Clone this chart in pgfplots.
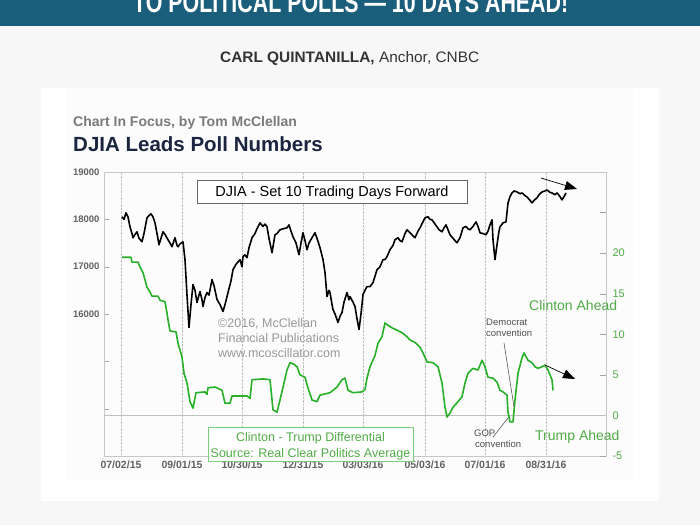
\documentclass[border=0pt]{standalone}
\usepackage{pgfplots}
\pgfplotsset{compat=1.18}
\usepackage{fontspec}
\setmainfont{Liberation Sans}
\usetikzlibrary{arrows.meta}
\definecolor{banner}{RGB}{27,94,124}
\definecolor{pagebg}{RGB}{247,247,247}
\definecolor{pollgreen}{RGB}{40,175,40}
\definecolor{txtgreen}{RGB}{80,170,70}
\definecolor{boxgreen}{RGB}{120,205,120}
\definecolor{navy}{RGB}{28,37,64}
\newcommand\fs[1]{\fontsize{#1}{#1}\selectfont}
\begin{document}
\begin{tikzpicture}[x=1pt,y=1pt]
\useasboundingbox (0,0) rectangle (700,525);
\fill[pagebg] (0,0) rectangle (700,525);
\fill[banner] (0,499) rectangle (700,525);
\begin{scope}
\clip (0,499) rectangle (700,525);
\node[anchor=base west,inner sep=0,text=white] at (133,512) {\resizebox{435pt}{20pt}{\bfseries TO POLITICAL POLLS — 10 DAYS AHEAD!}};
\end{scope}
\node[anchor=base west,inner sep=0,text=black!80] at (220,462) {\resizebox{259pt}{11pt}{\textbf{CARL QUINTANILLA,} Anchor, CNBC}};
\fill[white] (41,24) rectangle (659,437);
\fill[black!1] (67,45) rectangle (633,437);
\node[anchor=base west,inner sep=0,text=black!52] at (73,398) {\fs{14}\bfseries Chart In Focus, by Tom McClellan};
\node[anchor=base west,inner sep=0,text=navy] at (73,373) {\fs{20.5}\bfseries DJIA Leads Poll Numbers};
% DJIA axis
\begin{axis}[
  at={(104pt,69pt)}, anchor=south west, scale only axis,
  width=502pt, height=284pt,
  xmin=-17, xmax=485, ymin=13000, ymax=19000,
  scaled y ticks=false,
  axis line style={black!22},
  xtick={0,61,121,182,242,304,364,425},
  xticklabels={07/02/15,09/01/15,10/30/15,12/31/15,03/03/16,05/03/16,07/01/16,08/31/16},
  xtick style={draw=none},
  xmajorgrids, major grid style={densely dotted, black!25},
  ytick={14000,15000,16000,17000,18000,19000},
  yticklabels={,,16000,17000,18000,19000},
  ytick pos=left, ymajorgrids=false,
  ytick style={black!35}, major tick length=5pt,
  xtick pos=bottom,
  /pgf/number format/assume math mode=true,
  xticklabel style={font=\fs{10.5}\bfseries, text=black!62, yshift=-1pt},
  yticklabel style={font=\fs{9.5}\bfseries, text=black!62, xshift=-1pt},
]
\addplot[black, line width=1.6pt, line join=round] coordinates {
(1,18053)(3,18000)(5,18137)(7,18050)(9,17842)(11,17700)(12,17611)(14,17680)(16,17737)(18,17600)(21,17526)(23,17700)(26,18032)(28,18080)(30,18116)(32,18050)(34,17926)(36,17700)(38,17463)(40,17600)(42,17737)(44,17680)(47,17569)(49,17500)(51,17421)(53,17550)(54,17611)(56,17450)(57,17421)(59,17480)(62,17526)(64,17148)(66,16400)(68,15716)(70,16200)(72,16621)(74,16500)(76,16242)(78,16400)(79,16474)(81,16300)(82,16158)(84,16350)(86,16453)(88,16400)(91,16727)(93,16600)(96,16306)(99,16200)(102,16053)(104,16200)(107,16453)(110,16700)(112,16937)(115,17050)(117,17100)(119,17148)(121,17000)(122,17211)(124,17250)(126,17190)(128,17400)(131,17611)(134,17700)(136,17800)(139,17926)(142,17850)(144,17900)(146,17842)(148,17600)(151,17295)(153,17550)(154,17674)(156,17700)(159,17779)(162,17800)(166,17821)(168,17884)(170,17750)(172,17632)(175,17500)(178,17253)(180,17500)(182,17716)(184,17550)(186,17358)(188,17500)(191,17611)(194,17716)(196,17600)(199,17400)(202,17150)(204,16874)(206,16369)(208,16500)(209,16453)(211,16200)(212,16095)(214,16000)(217,15821)(219,15950)(221,16032)(223,16250)(226,16453)(228,16300)(229,16369)(232,16250)(234,16158)(236,15900)(238,15674)(240,16000)(242,16411)(244,16500)(246,16579)(249,16579)(252,16663)(254,16800)(256,16937)(259,17000)(262,17148)(264,17150)(266,17211)(269,17358)(272,17450)(274,17569)(277,17611)(279,17550)(281,17526)(284,17700)(286,17779)(289,17716)(292,17650)(294,17611)(297,17750)(299,17821)(302,17950)(304,18032)(307,18053)(309,18000)(311,17990)(314,17900)(316,17842)(318,17780)(321,17737)(323,17820)(325,17884)(327,17780)(329,17674)(332,17600)(334,17550)(336,17505)(339,17611)(342,17821)(345,17850)(347,17800)(349,17779)(352,17850)(355,17947)(357,17850)(359,17716)(362,17700)(365,17674)(367,17750)(369,17884)(371,17990)(372,17569)(374,17148)(376,17463)(378,17750)(379,17842)(382,17926)(385,17947)(387,18347)(389,18480)(391,18558)(393,18600)(396,18579)(399,18540)(401,18558)(404,18500)(406,18474)(409,18400)(411,18347)(413,18400)(416,18453)(418,18520)(421,18579)(424,18600)(426,18621)(429,18570)(431,18558)(434,18520)(436,18558)(439,18480)(441,18411)(443,18480)(445,18558)
};
\end{axis}
% Poll axis
\begin{axis}[
  at={(104pt,69pt)}, anchor=south west, scale only axis,
  width=502pt, height=284pt,
  xmin=-17, xmax=485, ymin=-5, ymax=30,
  axis x line=none, axis y line*=right,
  axis line style={black!22},
  tick align=inside, major tick length=6pt,
  ytick={-5,0,5,10,15,20,25},
  yticklabels={-5,0,5,10,15,20,},
  ytick style={black!35},
  /pgf/number format/assume math mode=true,
  yticklabel style={font=\fs{11}, text=txtgreen, xshift=3pt},
]
\addplot[black!25, line width=0.8pt] coordinates {(-17,0) (485,0)};
\addplot[pollgreen, line width=1.6pt, line join=round] coordinates {
(1,19.5)(10,19.5)(11,18.9)(17,18.9)(19,18.3)(22,17.6)(24,16.7)(26,15.8)(29,15.2)(31,14.7)(37,14.7)(39,14.2)(44,14.0)(46,12.6)(47,11.8)(49,10.4)(55,10.3)(57,8.9)(61,7.2)(63,5.2)(66,4.0)(69,1.7)(72,0.9)(75,2.8)(84,2.9)(86,2.6)(87,3.4)(94,3.5)(101,3.1)(104,1.5)(109,1.5)(111,2.4)(126,2.4)(129,2.1)(131,4.4)(142,4.5)(149,4.4)(152,0.7)(156,0.4)(159,1.9)(163,4.0)(166,5.6)(169,6.5)(173,6.3)(176,6.0)(179,5.0)(184,4.7)(187,3.4)(191,1.9)(196,1.7)(199,2.5)(209,2.8)(216,3.5)(221,4.4)(224,4.6)(227,3.1)(232,2.8)(241,2.9)(244,3.2)(246,4.6)(249,6.0)(254,7.4)(257,8.9)(261,9.7)(264,11.4)(267,11.1)(271,10.8)(276,10.5)(281,10.2)(286,9.7)(289,9.3)(294,9.0)(299,8.4)(302,7.7)(306,6.6)(312,6.5)(317,6.0)(321,4.0)(324,1.0)(326,-0.2)(329,0.3)(332,1.0)(337,1.7)(341,2.3)(344,4.0)(347,5.2)(352,5.8)(357,5.6)(361,6.8)(364,6.0)(367,4.7)(372,4.6)(376,4.1)(379,3.1)(382,2.9)(386,2.5)(387,0.4)(389,-0.8)(392,-0.8)(394,1.9)(397,5.2)(401,7.1)(403,7.7)(407,6.8)(411,6.5)(414,6.0)(417,5.8)(421,6.0)(424,6.2)(427,5.6)(431,4.4)(432,3.1)
};
\end{axis}
% annotations
\draw[black!60, fill=white, line width=0.8pt] (197,322) rectangle (467,345);
\node[anchor=base,inner sep=0] at (332,328) {\fs{14.5}DJIA - Set 10 Trading Days Forward};
\node[anchor=base west,inner sep=0,text=black!40] at (218,198) {\fs{12.5}©2016, McClellan};
\node[anchor=base west,inner sep=0,text=black!40] at (218,183) {\fs{12.5}Financial Publications};
\node[anchor=base west,inner sep=0,text=black!40] at (218,168) {\fs{12.5}www.mcoscillator.com};
\node[anchor=base west,inner sep=0,text=txtgreen] at (529,215) {\fs{14}Clinton Ahead};
\node[anchor=base west,inner sep=0,text=txtgreen] at (535,85) {\fs{14}Trump Ahead};
\node[anchor=base west,inner sep=0,text=black!70] at (486,200) {\fs{9.5}Democrat};
\node[anchor=base west,inner sep=0,text=black!70] at (486,189) {\fs{9.5}convention};
\draw[black!65, line width=0.6pt] (504,182) -- (514,118);
\node[anchor=base west,inner sep=0,text=black!70] at (474,89) {\fs{9.5}GOP};
\node[anchor=base west,inner sep=0,text=black!70] at (475,78) {\fs{9.5}convention};
\draw[black!65, line width=0.6pt] (493,88) -- (508,107);
\draw[black, line width=0.7pt, -{Triangle[length=12pt,width=9pt]}] (541,347) -- (577,336);
\draw[black, line width=0.7pt, -{Triangle[length=12pt,width=9pt]}] (545,160) -- (575,146);
\draw[boxgreen, fill=white, line width=0.9pt] (208,64) rectangle (413,98);
\node[anchor=base,inner sep=0,text=txtgreen] at (310.5,84) {\fs{12.5}Clinton - Trump Differential};
\node[anchor=base,inner sep=0,text=txtgreen] at (310.5,68) {\fs{12.5}Source: Real Clear Politics Average};
\end{tikzpicture}
\end{document}
